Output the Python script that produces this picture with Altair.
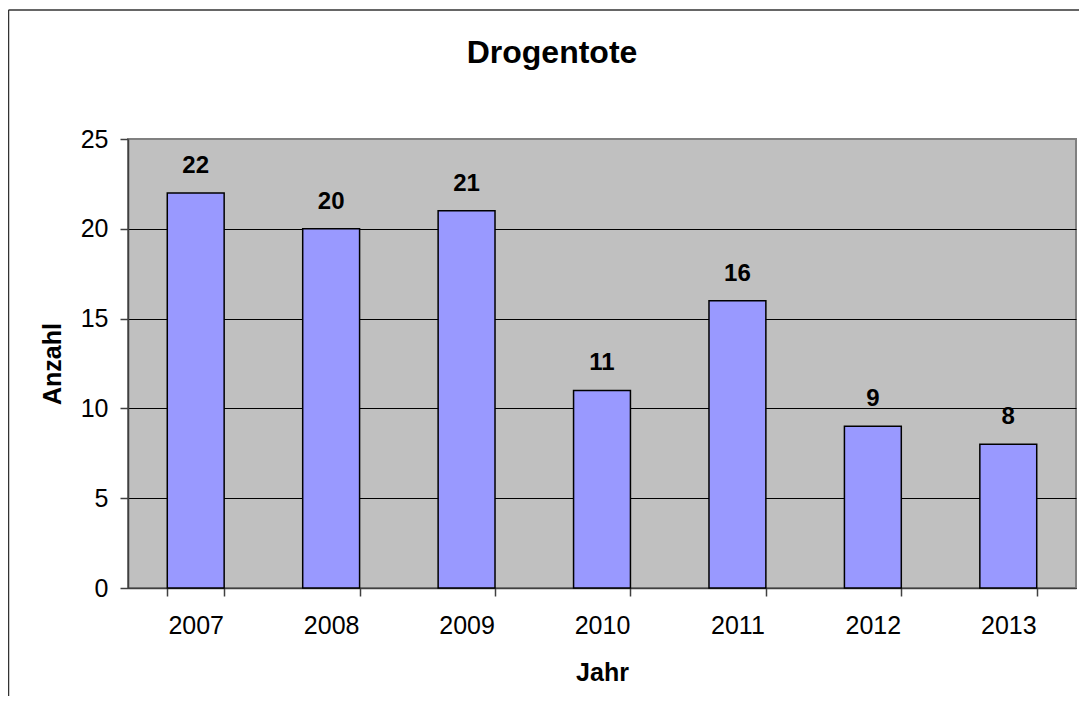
import altair as alt
import pandas as pd

years = ["2007", "2008", "2009", "2010", "2011", "2012", "2013"]
counts = [22, 20, 21, 11, 16, 9, 8]
y_ticks = [0, 5, 10, 15, 20, 25]

df = pd.DataFrame({"Jahr": years, "Anzahl": counts})
FONT = "Liberation Sans"

x_enc = alt.X(
    "Jahr:N",
    sort=years,
    scale=alt.Scale(paddingInner=0.58, paddingOuter=0.29),
    axis=alt.Axis(
        title="Jahr",
        labelAngle=0,
        tickBand="extent",
        tickSize=8,
        tickColor="#404040",
        tickWidth=1.5,
        domainColor="#404040",
        domainWidth=1.5,
        labelFontSize=25,
        labelPadding=17,
        titlePadding=22,
        grid=False,
    ),
)
y_enc = alt.Y(
    "Anzahl:Q",
    scale=alt.Scale(domain=[0, 25], nice=False),
    axis=alt.Axis(
        title="Anzahl",
        values=y_ticks,
        tickSize=8,
        tickColor="#404040",
        tickWidth=1.5,
        domainColor="#404040",
        domainWidth=1.5,
        labelFontSize=25,
        labelPadding=12,
        titlePadding=15,
        grid=True,
        gridColor={"condition": {"test": "datum.value === 25", "value": "#808080"}, "value": "#000000"},
        gridWidth=1,
    ),
)

base = alt.Chart(df)
bars = base.mark_bar(fill="#9999FF", stroke="#000000", strokeWidth=1.5).encode(x=x_enc, y=y_enc)
labels = base.mark_text(
    font=FONT, fontSize=24, fontWeight="bold", color="#000000",
    baseline="alphabetic", dy=-20,
).encode(x=alt.X("Jahr:N", sort=years), y="Anzahl:Q", text="Anzahl:Q")

frame_df = pd.DataFrame({"k": [0]})
left_border = alt.Chart(frame_df).mark_rule(color="#333333", strokeWidth=1.5).encode(
    x=alt.value(-119.5), y=alt.value(-129), y2=alt.value(700)
)
top_border = alt.Chart(frame_df).mark_rule(color="#333333", strokeWidth=1.5).encode(
    x=alt.value(-119.5), x2=alt.value(1000), y=alt.value(-129)
)

chart = (
    alt.layer(bars, labels, left_border, top_border)
    .properties(
        width=948,
        height=449,
        autosize=alt.AutoSizeParams(type="none"),
        padding={"left": 120, "top": 131, "right": 3, "bottom": 108},
        title=alt.TitleParams(
            "Drogentote", fontSize=32, font=FONT, fontWeight="bold", color="#000000",
            anchor="middle", frame="group", dx=-50, baseline="alphabetic", offset=-86,
        ),
    )
    .configure(font=FONT, background="#FFFFFF")
    .configure_view(fill="#C0C0C0", stroke="#808080", strokeWidth=2)
    .configure_axis(labelFont=FONT, titleFont=FONT, labelColor="#000000", titleColor="#000000",
                    titleFontSize=25, titleFontWeight="bold")
)

chart.save("out.html", embed_options={"renderer": "svg", "actions": False})
